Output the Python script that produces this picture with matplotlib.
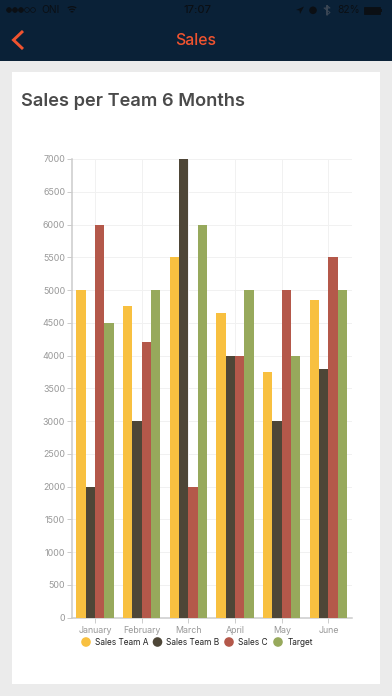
import matplotlib
matplotlib.use("Agg")
import matplotlib.pyplot as plt
from matplotlib.patches import Rectangle, Circle, Wedge, Polygon
from matplotlib.lines import Line2D

plt.rcParams['font.family'] = ['Inter', 'DejaVu Sans']

W, H = 392, 696
months = ["January", "February", "March", "April", "May", "June"]
team_a = [5000, 4750, 5500, 4650, 3750, 4850]
team_b = [2000, 3000, 7000, 4000, 3000, 3800]
team_c = [6000, 4200, 2000, 4000, 5000, 5500]
target = [4500, 5000, 6000, 5000, 4000, 5000]
series_names = ["Sales Team A", "Sales Team B", "Sales C", "Target"]
series_values = [team_a, team_b, team_c, target]
series_colors = ["#f8c040", "#4e4637", "#b4584a", "#97a95c"]
y_ticks = list(range(0, 7001, 500))

fig = plt.figure(figsize=(W / 100, H / 100), dpi=100, facecolor="#ebebeb")
bg = fig.add_axes([0, 0, 1, 1])
bg.set_xlim(0, W)
bg.set_ylim(H, 0)
bg.axis("off")
bg.add_patch(Rectangle((0, 0), W, 60.5, color="#0a2137", lw=0))
bg.add_patch(Rectangle((12, 72), 368, 612, color="white", lw=0))

# status bar
for i in range(5):
    bg.add_patch(Circle((9 + i * 6, 10), 2.4, fc="#0b0f14" if i < 3 else "none",
                        ec="#0b0f14", lw=0.5))
bg.text(41, 10.3, "ONI", color="#0b0f14", fontsize=7.4, va="center", ha="left")
for r in (8, 5.5, 3):
    bg.add_patch(Wedge((72, 14), r, 235, 305, width=1.3, color="#0b0f14", lw=0))
bg.text(197, 10.3, "17:07", color="#0b0f14", fontsize=8, fontweight="medium",
        va="center", ha="center")
bg.add_patch(Polygon([(296, 10), (304, 6.5), (300, 14), (299.5, 10.5)], color="#0b0f14", lw=0))
bg.add_patch(Circle((313, 10.3), 3.8, color="#0b0f14", lw=0))
bg.add_line(Line2D([327, 327, 330, 324, 330, 327, 327], [5.5, 15, 12.5, 8, 8, 5.5, 15],
                   color="#3a4654", lw=0.7))
bg.text(337, 10.3, "82%", color="#0b0f14", fontsize=7.4, va="center", ha="left")
bg.add_patch(Rectangle((364, 6.5), 16, 7.5, fc="#0b0f14", ec="#0b0f14", lw=0.6))
bg.add_patch(Rectangle((380.5, 9), 1.5, 3, color="#0b0f14", lw=0))

# nav bar
bg.add_line(Line2D([23, 13.5, 23], [31, 40, 49], color="#f0532f", lw=2.1,
                   solid_joinstyle="miter", solid_capstyle="butt"))
bg.text(196, 40.5, "Sales", color="#f0532f", fontsize=11.4, fontweight="medium",
        va="center", ha="center")
bg.text(21, 101, "Sales per Team 6 Months", color="#4a4a4a", fontsize=13.1,
        fontweight="semibold", va="center", ha="left")

# chart
left, right, top, bottom = 71.6, 351.8, 159.0, 617.7
ax = fig.add_axes([left / W, 1 - bottom / H, (right - left) / W, (bottom - top) / H])
ax.set_xlim(-0.5, 5.5)
ax.set_ylim(0, 7000)
ax.patch.set_alpha(0)
bar_w = 0.2
for i, (name, vals, col) in enumerate(zip(series_names, series_values, series_colors)):
    xs = [m + (i - 1.5) * bar_w for m in range(len(months))]
    ax.bar(xs, vals, width=bar_w, color=col, label=name, zorder=3, lw=0)
ax.set_yticks(y_ticks)
ax.set_xticks(range(len(months)))
ax.set_xticklabels(months)
ax.grid(True, color="#f1f1f1", lw=0.7, zorder=0)
ax.set_axisbelow(True)
for s in ("top", "right"):
    ax.spines[s].set_visible(False)
for s in ("left", "bottom"):
    ax.spines[s].set_color("#cccccc")
    ax.spines[s].set_linewidth(1.1)
ax.tick_params(axis="both", color="#cccccc", labelcolor="#999999", labelsize=6.4,
               length=3.6, width=0.7, pad=1)
ax.tick_params(axis="x", pad=2.2)

# legend
leg_x = [86, 157.5, 229, 278]
txt_x = [95.5, 166.5, 238, 287.5]
for name, col, lx, tx in zip(series_names, series_colors, leg_x, txt_x):
    bg.add_patch(Circle((lx, 642), 4.8, color=col, lw=0, zorder=5))
    bg.text(tx, 642.3, name, color="#222222", fontsize=6.0, va="center", ha="left")

fig.savefig("out.png", dpi=100, facecolor=fig.get_facecolor())
